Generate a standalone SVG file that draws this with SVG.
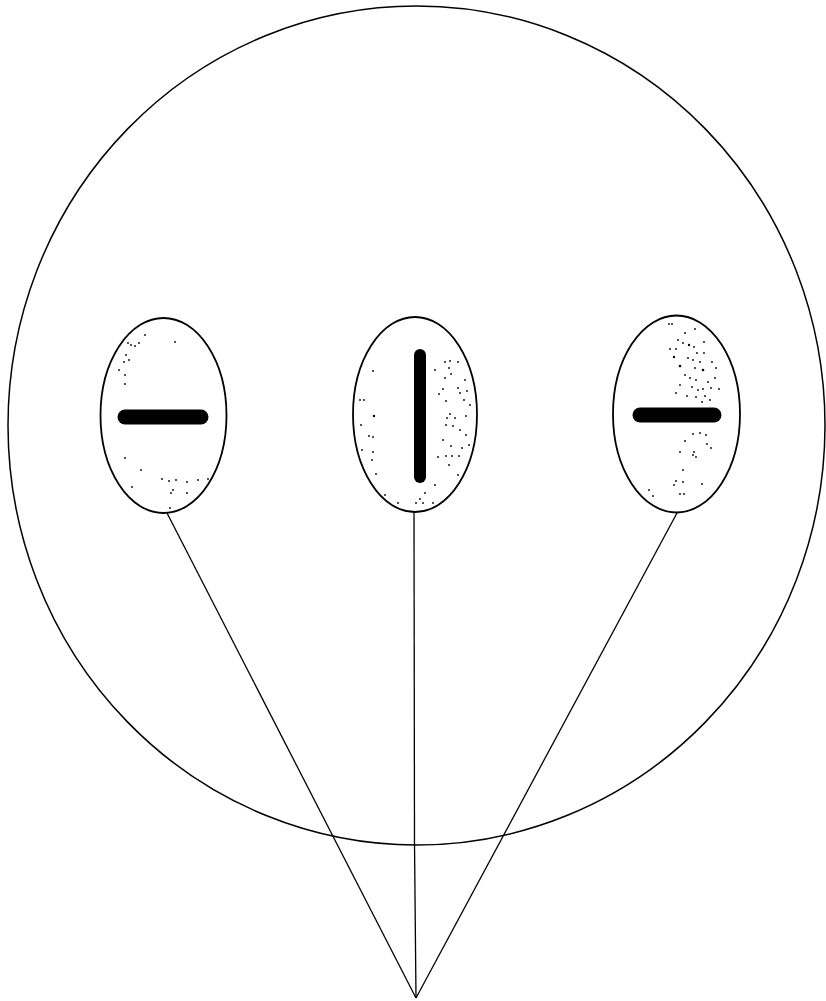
<svg xmlns="http://www.w3.org/2000/svg" width="826" height="1001" viewBox="0 0 826 1001">
<style>
.outer{fill:none;stroke:#000;stroke-width:1.5}
.oval{fill:#fff;stroke:#000;stroke-width:1.8}
.bar{stroke:#000;stroke-linecap:round;fill:none}
.conn{stroke:#000;stroke-width:1.3;fill:none}
.dot{fill:#000}
</style>
<rect width="826" height="1001" fill="#fff"/>
<g id="cell">
<ellipse class="outer" cx="416.5" cy="425.5" rx="408.5" ry="419.5"/>
</g>
<g id="connectors">
<line class="conn" x1="167" y1="513" x2="416" y2="998"/>
<line class="conn" x1="677" y1="513" x2="416" y2="998"/>
<line class="conn" x1="414" y1="512" x2="414.5" y2="843" stroke-width="1.8"/>
<line class="conn" x1="414.5" y1="843" x2="416" y2="998" stroke-width="1"/>
</g>
<g id="left-oval">
<ellipse class="oval" cx="163.5" cy="415.5" rx="63" ry="97.5"/>
<line class="bar" x1="125" y1="417" x2="201" y2="417" stroke-width="15"/>
<g class="dot">
<circle cx="128" cy="343" r="0.9"/><circle cx="131" cy="345" r="0.9"/><circle cx="135" cy="346" r="0.9"/>
<circle cx="126" cy="355" r="0.9"/><circle cx="129" cy="360" r="0.9"/><circle cx="124" cy="362" r="0.9"/>
<circle cx="119" cy="370" r="0.9"/><circle cx="125" cy="375" r="0.9"/><circle cx="125" cy="384" r="0.9"/>
<circle cx="145" cy="335" r="0.9"/><circle cx="139" cy="343" r="0.9"/><circle cx="175" cy="342" r="0.9"/>
<circle cx="125" cy="458" r="0.9"/><circle cx="141" cy="470" r="0.9"/><circle cx="162" cy="479" r="0.9"/>
<circle cx="169" cy="481" r="0.9"/><circle cx="176" cy="480" r="0.9"/><circle cx="173" cy="490" r="0.9"/>
<circle cx="171" cy="493" r="0.9"/><circle cx="132" cy="487" r="0.9"/><circle cx="187" cy="482" r="0.9"/>
<circle cx="198" cy="480" r="0.9"/><circle cx="208" cy="479" r="0.9"/><circle cx="187" cy="493" r="0.9"/>
<circle cx="170" cy="508" r="0.9"/>
</g>
</g>
<g id="middle-oval">
<ellipse class="oval" cx="415" cy="414.5" rx="62" ry="97.5"/>
<line class="bar" x1="420" y1="355" x2="420" y2="477" stroke-width="12"/>
<g class="dot">
<circle cx="373" cy="371" r="0.9"/><circle cx="360" cy="400" r="0.9"/><circle cx="364" cy="400" r="0.9"/>
<circle cx="374" cy="416" r="1.2"/><circle cx="361" cy="425" r="0.9"/><circle cx="369" cy="436" r="0.9"/>
<circle cx="373" cy="437" r="0.9"/><circle cx="362" cy="450" r="0.9"/><circle cx="373" cy="452" r="0.9"/>
<circle cx="372" cy="460" r="0.9"/><circle cx="376" cy="474" r="0.9"/><circle cx="445" cy="362" r="0.9"/>
<circle cx="450" cy="361" r="0.9"/><circle cx="458" cy="362" r="0.9"/><circle cx="449" cy="368" r="0.9"/>
<circle cx="435" cy="370" r="0.9"/><circle cx="451" cy="374" r="0.9"/><circle cx="445" cy="378" r="0.9"/>
<circle cx="465" cy="380" r="0.9"/><circle cx="443" cy="389" r="0.9"/><circle cx="458" cy="388" r="0.9"/>
<circle cx="439" cy="394" r="0.9"/><circle cx="460" cy="393" r="0.9"/><circle cx="467" cy="391" r="0.9"/>
<circle cx="446" cy="401" r="0.9"/><circle cx="464" cy="400" r="0.9"/><circle cx="470" cy="405" r="0.9"/>
<circle cx="450" cy="414" r="0.9"/><circle cx="447" cy="418" r="0.9"/><circle cx="455" cy="418" r="0.9"/>
<circle cx="466" cy="416" r="0.9"/><circle cx="446" cy="425" r="0.9"/><circle cx="453" cy="426" r="0.9"/>
<circle cx="460" cy="430" r="0.9"/><circle cx="466" cy="435" r="0.9"/><circle cx="443" cy="440" r="0.9"/>
<circle cx="451" cy="446" r="0.9"/><circle cx="462" cy="448" r="0.9"/><circle cx="469" cy="445" r="0.9"/>
<circle cx="438" cy="457" r="0.9"/><circle cx="446" cy="456" r="0.9"/><circle cx="452" cy="456" r="0.9"/>
<circle cx="459" cy="456" r="0.9"/><circle cx="449" cy="465" r="0.9"/><circle cx="458" cy="475" r="0.9"/>
<circle cx="435" cy="485" r="0.9"/><circle cx="425" cy="493" r="0.9"/><circle cx="420" cy="499" r="0.9"/>
<circle cx="416" cy="503" r="0.9"/><circle cx="423" cy="503" r="0.9"/><circle cx="385" cy="495" r="0.9"/>
<circle cx="398" cy="503" r="0.9"/><circle cx="433" cy="503" r="0.9"/>
</g>
</g>
<g id="right-oval">
<ellipse class="oval" cx="676.5" cy="414" rx="63.5" ry="98.5"/>
<line class="bar" x1="640" y1="415" x2="714" y2="415" stroke-width="15"/>
<g class="dot">
<circle cx="669" cy="324" r="0.9"/><circle cx="672" cy="324" r="0.9"/><circle cx="685" cy="333" r="0.9"/>
<circle cx="695" cy="329" r="0.9"/><circle cx="678" cy="340" r="0.9"/><circle cx="683" cy="343" r="0.9"/>
<circle cx="689" cy="345" r="1.2"/><circle cx="694" cy="347" r="0.9"/><circle cx="704" cy="342" r="0.9"/>
<circle cx="670" cy="349" r="0.9"/><circle cx="676" cy="349" r="0.9"/><circle cx="697" cy="353" r="0.9"/>
<circle cx="704" cy="353" r="0.9"/><circle cx="674" cy="357" r="1.2"/><circle cx="688" cy="358" r="0.9"/>
<circle cx="693" cy="360" r="0.9"/><circle cx="700" cy="362" r="0.9"/><circle cx="712" cy="362" r="0.9"/>
<circle cx="680" cy="366" r="1.3"/><circle cx="695" cy="368" r="0.9"/><circle cx="703" cy="370" r="1.3"/>
<circle cx="716" cy="368" r="0.9"/><circle cx="685" cy="375" r="0.9"/><circle cx="690" cy="378" r="0.9"/>
<circle cx="696" cy="380" r="0.9"/><circle cx="708" cy="382" r="0.9"/><circle cx="715" cy="378" r="0.9"/>
<circle cx="680" cy="385" r="0.9"/><circle cx="692" cy="387" r="0.9"/><circle cx="698" cy="390" r="0.9"/>
<circle cx="703" cy="389" r="0.9"/><circle cx="711" cy="388" r="0.9"/><circle cx="719" cy="389" r="0.9"/>
<circle cx="676" cy="393" r="0.9"/><circle cx="687" cy="396" r="0.9"/><circle cx="696" cy="397" r="0.9"/>
<circle cx="705" cy="396" r="0.9"/><circle cx="710" cy="400" r="0.9"/><circle cx="702" cy="402" r="0.9"/>
<circle cx="693" cy="434" r="0.9"/><circle cx="700" cy="433" r="0.9"/><circle cx="706" cy="435" r="0.9"/>
<circle cx="685" cy="441" r="0.9"/><circle cx="707" cy="444" r="0.9"/><circle cx="711" cy="448" r="0.9"/>
<circle cx="680" cy="452" r="0.9"/><circle cx="694" cy="452" r="0.9"/><circle cx="693" cy="455" r="0.9"/>
<circle cx="696" cy="457" r="0.9"/><circle cx="683" cy="470" r="0.9"/><circle cx="676" cy="481" r="0.9"/>
<circle cx="683" cy="482" r="0.9"/><circle cx="674" cy="485" r="0.9"/><circle cx="702" cy="484" r="0.9"/>
<circle cx="680" cy="494" r="0.9"/><circle cx="684" cy="494" r="0.9"/><circle cx="649" cy="490" r="0.9"/>
<circle cx="653" cy="496" r="0.9"/>
</g>
</g>
</svg>
